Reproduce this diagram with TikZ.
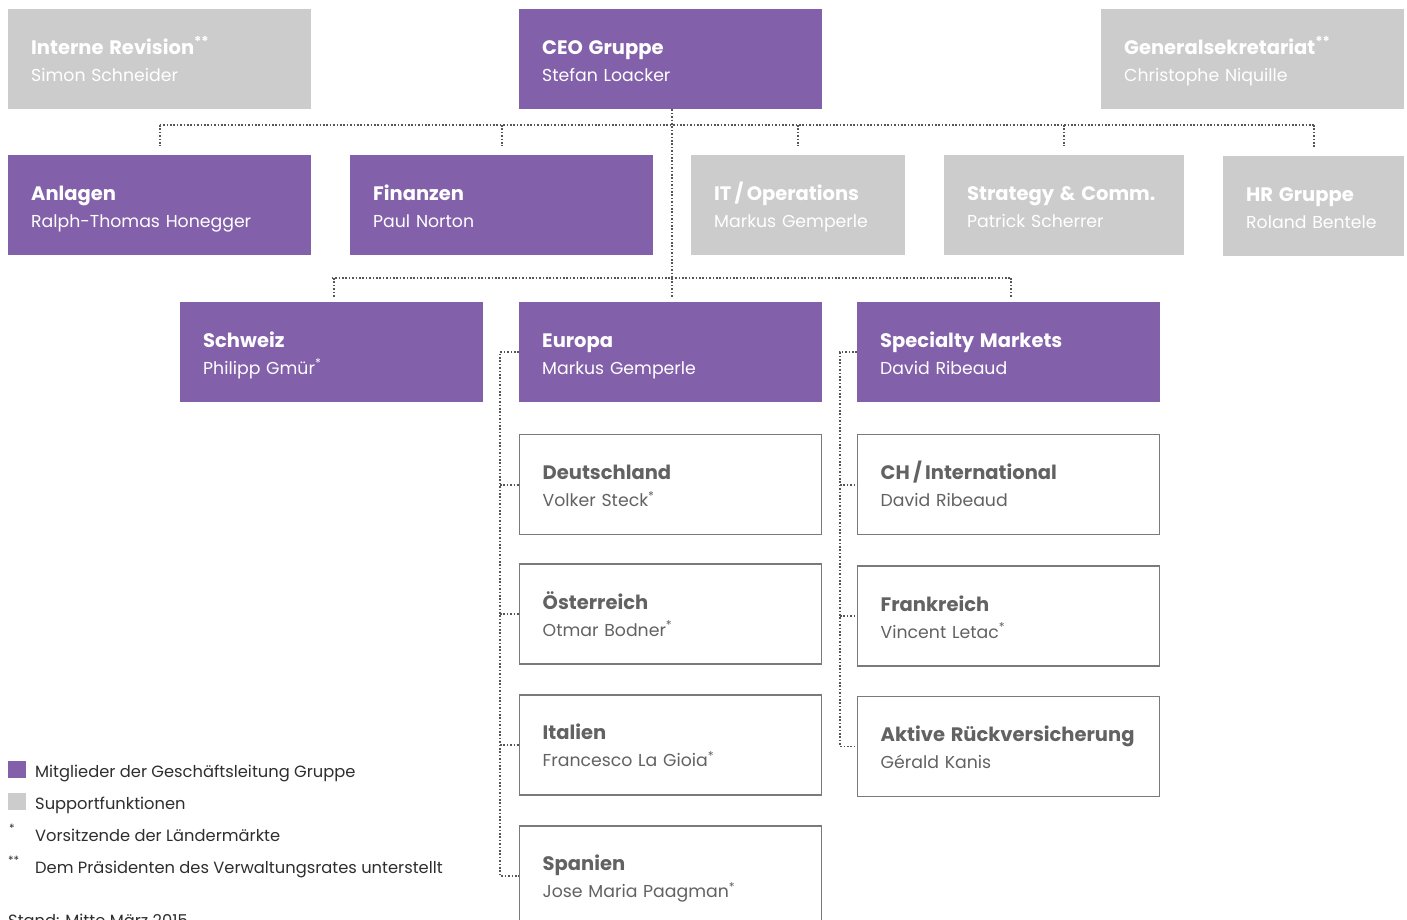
\documentclass[tikz,border=0pt]{standalone}
\usepackage{fontspec}
\setmainfont{Poppins}
\usepackage{xcolor}
\usetikzlibrary{positioning,calc}

\definecolor{gmpurple}{HTML}{8360AA}
\definecolor{gmgray}{HTML}{CCCCCC}
\definecolor{gmline}{HTML}{555555}
\definecolor{gmborder}{HTML}{7A7A7A}
\definecolor{gmtext}{HTML}{626262}
\definecolor{gmlegend}{HTML}{2E2E2E}

\newcommand{\boxfont}{\fontsize{17.3}{27}\selectfont\hyphenpenalty=10000}
\newcommand{\boxhead}[1]{{\fontsize{19.5}{27}\selectfont\bfseries #1}}
\newcommand{\legendfont}{\fontsize{16.3}{20}\selectfont}

\begin{document}
\begin{tikzpicture}[
    x=1pt, y=-1pt,
    node distance=29.5pt,
    orgbox/.style={rectangle, anchor=north west, minimum height=100pt, inner xsep=23pt, inner ysep=0pt, text width=#1, align=left, font=\boxfont,
        execute at begin node={\rule{0pt}{25pt}}, execute at end node={\strut}},
    member/.style={orgbox=#1, fill=gmpurple, text=white},
    support/.style={orgbox=#1, fill=gmgray, text=white},
    market/.style={orgbox=256pt, anchor=center, draw=gmborder, line width=1.4pt, fill=white, text=gmtext},
    link/.style={draw=gmline, line width=1.8pt, dash pattern=on 1.6pt off 1.8pt},
    key/.style={rectangle, minimum width=18pt, minimum height=17pt, inner sep=0pt, anchor=north west},
    legend/.style={anchor=base west, inner sep=0pt, font=\legendfont, text=gmlegend}
]
    \useasboundingbox (0,0) rectangle (1407,920);

    % Top row
    \node[support=257pt] (revision) at (8,9) {\boxhead{Interne Revision\textsuperscript{**}}\\Simon Schneider};
    \node[member=257pt] (ceo) at (519,9) {\boxhead{CEO Gruppe}\\Stefan Loacker};
    \node[support=257pt] (sekretariat) at (1101,9) {\boxhead{Generalsekretariat\textsuperscript{**}}\\Christophe Niquille};

    % Second row
    \node[member=257pt] (anlagen) at (8,155) {\boxhead{Anlagen}\\Ralph-Thomas Honegger};
    \node[member=257pt] (finanzen) at (350,155) {\boxhead{Finanzen}\\Paul Norton};
    \node[support=168pt] (it) at (691,155) {\boxhead{IT\,/\,Operations}\\Markus Gemperle};
    \node[support=194pt] (strategy) at (944,155) {\boxhead{Strategy \& Comm.}\\Patrick Scherrer};
    \node[support=135pt] (hr) at (1223,156) {\boxhead{HR Gruppe}\\Roland~Bentele};

    % Markets
    \node[member=257pt] (schweiz) at (180,302) {\boxhead{Schweiz}\\Philipp Gmür\textsuperscript{*}};
    \node[member=257pt] (europa) at (519,302) {\boxhead{Europa}\\Markus Gemperle};
    \node[member=257pt] (specialty) at (857,302) {\boxhead{Specialty Markets}\\David Ribeaud};

    % Europa countries
    \node[market, anchor=north west] (deutschland) at (519,434) {\boxhead{Deutschland}\\Volker Steck\textsuperscript{*}};
    \node[market, below=28pt of deutschland] (oesterreich) {\boxhead{Österreich}\\Otmar Bodner\textsuperscript{*}};
    \node[market, below=of oesterreich] (italien) {\boxhead{Italien}\\Francesco La Gioia\textsuperscript{*}};
    \node[market, below=of italien] (spanien) {\boxhead{Spanien}\\Jose Maria Paagman\textsuperscript{*}};

    % Specialty units
    \node[market, anchor=north west] (international) at (857,434) {\boxhead{CH\,/\,International}\\David Ribeaud};
    \node[market, below=30pt of international] (frankreich) {\boxhead{Frankreich}\\Vincent Letac\textsuperscript{*}};
    \node[market, below=29pt of frankreich] (rueck) {\boxhead{Aktive Rückversicherung}\\Gérald Kanis};

    % Connectors
    \coordinate (busA) at (0,125);
    \coordinate (busB) at (0,278);
    \coordinate (eline) at (500,0);
    \coordinate (sline) at (840,0);

    \draw[link] ([xshift=1pt]ceo.south) -- ([xshift=1pt]ceo.south |- busB);
    \draw[link] (anlagen.north |- busA) -- (hr.north |- busA);
    \foreach \n in {anlagen,finanzen,it,strategy,hr}
        \draw[link] (\n.north |- busA) -- ([yshift=9pt]\n.north);
    \draw[link] (schweiz.north |- busB) -- ([xshift=2pt]specialty.north |- busB);
    \foreach \n in {schweiz,specialty}
        \draw[link] ([xshift=2pt]\n.north |- busB) -- ([xshift=2pt,yshift=4pt]\n.north);
    \draw[link] ([xshift=1pt]europa.north |- busB) -- ([xshift=1pt,yshift=4pt]europa.north);

    \draw[link] (europa.west) -- (europa.west -| eline) -- (spanien.west -| eline) -- (spanien.west);
    \foreach \n in {deutschland,oesterreich,italien}
        \draw[link] (\n.west -| eline) -- (\n.west);
    \draw[link] (specialty.west) -- (specialty.west -| sline) -- (rueck.west -| sline) -- (rueck.west);
    \foreach \n in {international,frankreich}
        \draw[link] (\n.west -| sline) -- (\n.west);

    % Legend
    \node[key, fill=gmpurple] (keymember) at (8,761) {};
    \node[key, fill=gmgray] (keysupport) at (8,793) {};
    \node[legend] (lmember) at (35,777) {Mitglieder der Geschäftsleitung Gruppe};
    \node[legend] (lsupport) at (35,809) {Supportfunktionen};
    \node[legend] (star) at (9,839) {\textsuperscript{*}};
    \node[legend] (lchair) at (35,841) {Vorsitzende der Ländermärkte};
    \node[legend] (stars) at (8,871) {\textsuperscript{**}};
    \node[legend] (lboard) at (35,873) {Dem Präsidenten des Verwaltungsrates unterstellt};
    \node[legend] (stand) at (8,926) {Stand: Mitte März 2015};
\end{tikzpicture}
\end{document}
